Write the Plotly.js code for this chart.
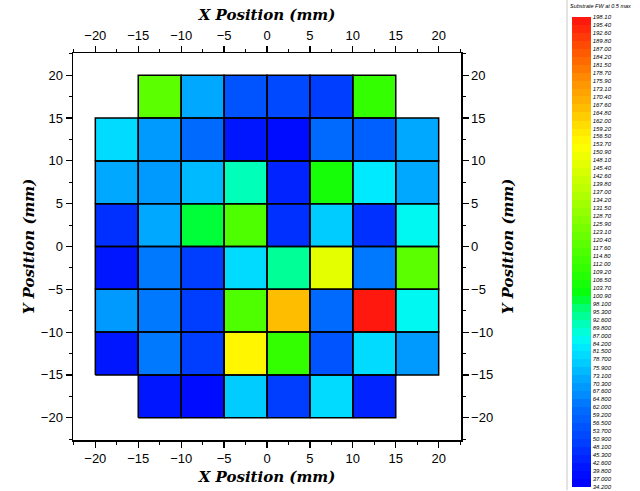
<!DOCTYPE html>
<html><head><meta charset="utf-8">
<script src="https://cdn.plot.ly/plotly-3.0.1.min.js"></script>
<style>body{margin:0;background:#fff}#c{width:640px;height:491px}</style>
</head><body><div id="c"></div>
<script>
// Cell centres (mm)
var xCenters = [-17.5, -12.5, -7.5, -2.5, 2.5, 7.5, 12.5, 17.5];
var yCenters = [17.5, 12.5, 7.5, 2.5, -2.5, -7.5, -12.5, -17.5];
// Substrate FW at 0.5 max, one row per y (top to bottom)
var row1 = [null, 118, 73, 54, 52, 50, 110, null];
var row2 = [80, 68, 60, 40, 38, 60, 58, 73];
var row3 = [73, 70, 75, 90, 44, 104, 84, 73];
var row4 = [47, 73, 100, 117, 46, 78, 47, 85];
var row5 = [42, 64, 50, 81, 95, 146, 62, 118];
var row6 = [68, 62, 50, 115, 167, 60, 196, 86];
var row7 = [42, 62, 50, 156, 110, 56, 81, 68];
var row8 = [null, 42, 38, 78, 50, 81, 44, null];
var zRows = [row1, row2, row3, row4, row5, row6, row7, row8];

// Colour bar levels and labels
var levelLabels = ["198.10","195.40","192.60","189.80","187.00","184.20","181.50","178.70","175.90","173.10","170.40","167.60","164.80","162.00","159.20","156.50","153.70","150.90","148.10","145.40","142.60","139.80","137.00","134.20","131.50","128.70","125.90","123.10","120.40","117.60","114.80","112.00","109.20","106.50","103.70","100.90","98.100","95.300","92.600","89.800","87.000","84.200","81.500","78.700","75.900","73.100","70.300","67.600","64.800","62.000","59.200","56.500","53.700","50.900","48.100","45.300","42.600","39.800","37.000","34.200"];
var levelValues = levelLabels.map(Number);

// Colour anchors (value -> colour)
var anchorVals = [34.2, 40, 45, 50, 56, 62, 67, 73, 78, 84, 87, 92, 98, 101, 110, 120, 134, 146, 153, 160, 167, 176, 186, 198.1];
var anchorCols = ["#0000ff","#0010ff","#0028ff","#0040ff","#0058ff","#0070ff","#0090ff","#00b0ff","#00d0ff","#00f0ff","#00ffe8","#00ffb0","#00ff60","#00ff10","#30ff00","#60ff00","#a8ff00","#e0ff00","#ffff00","#ffe000","#ffb800","#ff9000","#ff5800","#ff1010"];

var vmin = Math.min.apply(null, levelValues), vmax = Math.max.apply(null, levelValues);
function hex2rgb(h){return [parseInt(h.substr(1,2),16),parseInt(h.substr(3,2),16),parseInt(h.substr(5,2),16)];}
function colAt(v){
  for (var i=0;i<anchorVals.length-1;i++){
    if (v<=anchorVals[i+1]){
      var t=(v-anchorVals[i])/(anchorVals[i+1]-anchorVals[i]);
      var a=hex2rgb(anchorCols[i]), b=hex2rgb(anchorCols[i+1]);
      return 'rgb('+a.map(function(c,k){return Math.round(c+(b[k]-c)*t);}).join(',')+')';
    }
  }
  return anchorCols[anchorCols.length-1];
}
var asc = levelValues.slice().sort(function(a,b){return a-b;});
var colorscale = [];
for (var i=0;i<asc.length-1;i++){
  var c = colAt((asc[i]+asc[i+1])/2);
  colorscale.push([(asc[i]-vmin)/(vmax-vmin), c]);
  colorscale.push([(asc[i+1]-vmin)/(vmax-vmin), c]);
}

// Cell outlines built from the data grid
var half = 2.5, ox=[], oy=[];
zRows.forEach(function(row, r){
  row.forEach(function(v, c){
    if (v===null) return;
    var x0=xCenters[c]-half, x1=xCenters[c]+half, y0=yCenters[r]-half, y1=yCenters[r]+half;
    ox.push(x0,x1,x1,x0,x0,null); oy.push(y0,y0,y1,y1,y0,null);
  });
});

var tickFont = {family:'"Liberation Sans", Arial, sans-serif', size:13, color:'#000'};
var titleFont = {family:'"DejaVu Serif", serif', size:15, color:'#000', weight:'bold', style:'italic'};
var axRange = [-22.6, 22.6];
function axis(extra){
  var a = {range:axRange, dtick:5, tick0:0, ticks:'outside', ticklen:6, tickwidth:1.2, tickcolor:'#000',
    minor:{dtick:2.5, ticks:'outside', ticklen:3, tickcolor:'#000', tickwidth:1.2, showgrid:false},
    showline:true, linecolor:'#000', linewidth:1.5, showgrid:false, zeroline:false,
    tickfont:tickFont, fixedrange:true};
  for (var k in extra) a[k]=extra[k];
  return a;
}

var data = [
  {type:'heatmap', x:xCenters, y:yCenters, z:zRows, colorscale:colorscale, zmin:vmin, zmax:vmax,
   showscale:true, hoverongaps:false,
   colorbar:{xref:'paper', yref:'paper', x:(572-73)/388, xanchor:'left', y:(440-252)/387, yanchor:'middle',
     thickness:19, thicknessmode:'pixels', len:470, lenmode:'pixels', outlinewidth:0,
     tickvals:levelValues, ticktext:levelLabels, ticks:'', ticklabelposition:'outside',
     tickfont:{family:'"Liberation Sans", Arial, sans-serif', size:6, color:'#000', style:'italic'}, xpad:0, ypad:0}},
  {type:'scatter', mode:'lines', x:ox, y:oy, line:{color:'#000', width:1.5}, hoverinfo:'skip', showlegend:false},
  {type:'scatter', mode:'markers', x:[], y:[], xaxis:'x2', yaxis:'y2', showlegend:false, hoverinfo:'skip'}
];

var layout = {
  width:640, height:491, margin:{l:73, r:179, t:53, b:51},
  paper_bgcolor:'#fff', plot_bgcolor:'#fff', showlegend:false,
  xaxis: axis({title:{text:'X Position (mm)', font:titleFont, standoff:6}}),
  yaxis: axis({title:{text:'Y Position (mm)', font:titleFont, standoff:2}}),
  xaxis2: axis({overlaying:'x', side:'top', anchor:'y', title:{text:'X Position (mm)', font:titleFont, standoff:4}}),
  yaxis2: axis({overlaying:'y', side:'right', anchor:'x', title:{text:'Y Position (mm)', font:titleFont, standoff:10}}),
  shapes:[{type:'line', xref:'paper', yref:'paper', x0:(567-73)/388, x1:(567-73)/388, y0:-0.13, y1:1.14,
           line:{color:'#c8c8c8', width:1}}],
  annotations:[{xref:'paper', yref:'paper', x:(568-73)/388, y:(440-6)/387, xanchor:'left', yanchor:'middle',
    text:'Substrate FW at 0.5 max', showarrow:false,
    font:{family:'"Liberation Sans", Arial, sans-serif', size:5.5, color:'#000', style:'italic'}}]
};
Plotly.newPlot('c', data, layout, {staticPlot:true});
</script></body></html>
